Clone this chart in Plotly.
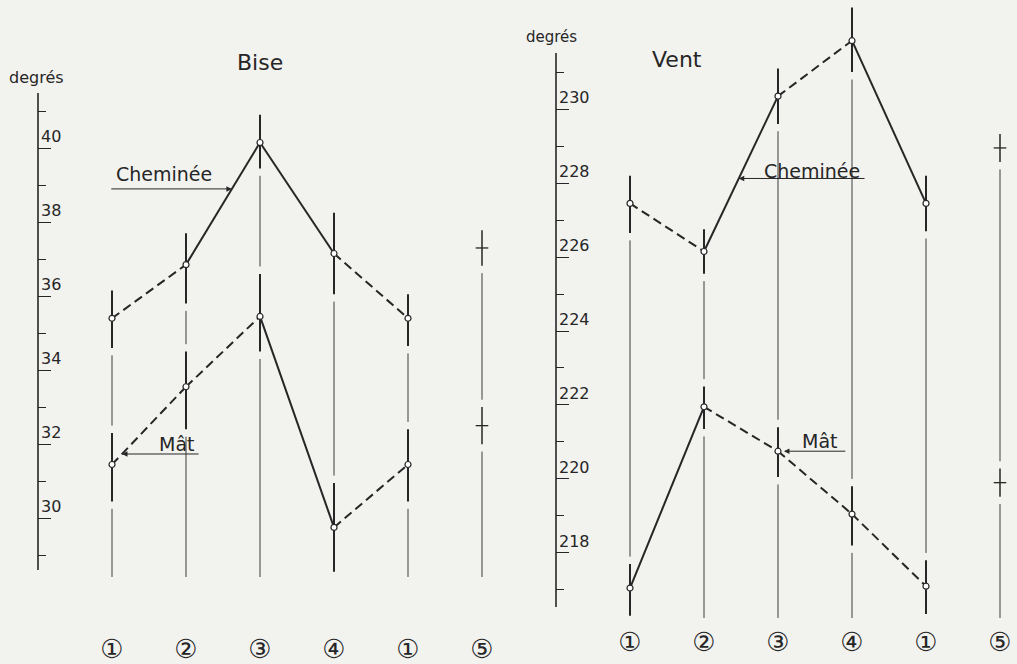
import plotly.graph_objects as go

W, H = 1017, 664
INK = "#262626"
GUIDE = "#3c3c3c"
BG = "#f2f2ef"
FONT = "DejaVu Sans, Noto Sans CJK JP, sans-serif"

# Measurement stations along the x axis (station 1 is repeated to close the loop)
stations = [1, 2, 3, 4, 5, 6]
station_labels = ["①", "②", "③", "④", "①", "⑤"]
loop = [1, 2, 3, 4, 5]

# --- Bise ---------------------------------------------------------------
bise_chem = [35.4, 36.85, 40.15, 37.15, 35.4]
bise_chem_up = [0.75, 0.85, 0.75, 1.1, 0.65]
bise_chem_dn = [0.8, 1.05, 0.7, 1.1, 0.75]
bise_chem_style = ["dash", "solid", "solid", "dash"]

bise_mat = [31.45, 33.55, 35.45, 29.75, 31.45]
bise_mat_up = [0.85, 0.95, 1.15, 1.2, 0.95]
bise_mat_dn = [1.0, 1.15, 0.95, 1.2, 1.0]
bise_mat_style = ["dash", "dash", "solid", "dash"]

bise_ref = [37.3, 32.5]
bise_ref_err = [0.48, 0.5]

bise_ticks = [30, 32, 34, 36, 38, 40]
bise_minor = [29, 31, 33, 35, 37, 39, 41]

# --- Vent ---------------------------------------------------------------
vent_chem = [227.45, 226.15, 230.35, 231.85, 227.45]
vent_chem_up = [0.75, 0.6, 0.75, 0.9, 0.75]
vent_chem_dn = [0.8, 0.6, 0.75, 0.85, 0.75]
vent_chem_style = ["dash", "solid", "dash", "solid"]

vent_mat = [217.05, 221.95, 220.75, 219.05, 217.1]
vent_mat_up = [0.65, 0.55, 0.65, 0.75, 0.7]
vent_mat_dn = [0.75, 0.6, 0.7, 0.85, 0.75]
vent_mat_style = ["solid", "dash", "dash", "dash"]

vent_ref = [228.95, 219.9]
vent_ref_err = [0.38, 0.38]

vent_ticks = [218, 220, 222, 224, 226, 228, 230]
vent_minor = [217, 219, 221, 223, 225, 227, 229, 231]

DASH = "9px,5px"
GAP = 0.2

fig = go.Figure()


def draw_panel(xa, ya, series, ref_vals, ref_err, ybottom):
    # thin guide lines at each station, broken just outside every error bar
    bars = {p: [] for p in stations}
    for vals, up, dn, _ in series:
        for p, v, u, d in zip(loop, vals, up, dn):
            bars[p].append((v + u, v - d))
    for v, e in zip(ref_vals, ref_err):
        bars[6].append((v + e, v - e))
    gx, gy = [], []
    for p, lst in bars.items():
        lst.sort(reverse=True)
        for i, (top, bot) in enumerate(lst):
            nxt = lst[i + 1][0] + GAP if i + 1 < len(lst) else ybottom
            gx += [p, p, None]
            gy += [bot - GAP, nxt, None]
    fig.add_trace(go.Scatter(x=gx, y=gy, xaxis=xa, yaxis=ya, mode="lines",
                             line=dict(color=GUIDE, width=1), hoverinfo="skip"))

    for vals, up, dn, styles in series:
        for i, st in enumerate(styles):
            fig.add_trace(go.Scatter(
                x=[loop[i], loop[i + 1]], y=[vals[i], vals[i + 1]],
                xaxis=xa, yaxis=ya, mode="lines",
                line=dict(color=INK, width=2, dash=DASH if st == "dash" else "solid")))
        fig.add_trace(go.Scatter(
            x=loop, y=vals, xaxis=xa, yaxis=ya, mode="markers",
            error_y=dict(type="data", array=up, arrayminus=dn, symmetric=False,
                         thickness=2, width=0, color=INK),
            marker=dict(symbol="circle", size=6, color="white",
                        line=dict(color=INK, width=1.2))))

    fig.add_trace(go.Scatter(
        x=[6] * len(ref_vals), y=ref_vals, xaxis=xa, yaxis=ya, mode="markers",
        error_y=dict(type="data", array=ref_err, thickness=1.5, width=0, color=INK),
        marker=dict(symbol="line-ew", size=9, line=dict(color=INK, width=1.3))))


def on_segment(xs, ys, x):
    i = int(x) - 1
    t = x - xs[i]
    return ys[i] + t * (ys[i + 1] - ys[i])


bise_range = [28.41, 44.0]
vent_range = [216.24, 232.95]

draw_panel("x", "y",
           [(bise_chem, bise_chem_up, bise_chem_dn, bise_chem_style),
            (bise_mat, bise_mat_up, bise_mat_dn, bise_mat_style)],
           bise_ref, bise_ref_err, bise_range[0])
draw_panel("x2", "y2",
           [(vent_chem, vent_chem_up, vent_chem_dn, vent_chem_style),
            (vent_mat, vent_mat_up, vent_mat_dn, vent_mat_style)],
           vent_ref, vent_ref_err, vent_range[0])

xcommon = dict(tickvals=stations, ticktext=station_labels, showgrid=False,
               zeroline=False, showline=False, ticks="", automargin=False,
               tickfont=dict(family=FONT, size=26, color=INK), fixedrange=True)


def yaxis_style(major, minor):
    return dict(showgrid=False, zeroline=False, showline=False, ticks="inside",
                automargin=False, fixedrange=True,
                ticklen=13, tickwidth=1.3, tickcolor=INK, tickvals=major,
                ticklabelposition="inside top",
                tickfont=dict(family=FONT, size=16, color=INK),
                minor=dict(ticks="inside", ticklen=8, tickvals=minor, tickwidth=1.3,
                           tickcolor=INK, showgrid=False))


fig.update_layout(
    width=W, height=H, margin=dict(l=0, r=0, t=0, b=0, autoexpand=False),
    paper_bgcolor=BG, plot_bgcolor=BG, showlegend=False,
    xaxis=dict(domain=[38 / W, 520 / W], range=[0, 482 / 74],
               anchor="y", ticklabelstandoff=54, **xcommon),
    yaxis=dict(domain=[1 - 577 / H, 1], range=bise_range, anchor="x",
               **yaxis_style(bise_ticks, bise_minor)),
    xaxis2=dict(domain=[556 / W, 1.0], range=[0, 461 / 74],
                anchor="y2", ticklabelstandoff=6, **xcommon),
    yaxis2=dict(domain=[1 - 618 / H, 1], range=vent_range, anchor="x2",
                **yaxis_style(vent_ticks, vent_minor)),
)

# axis spines
fig.add_shape(type="line", xref="x domain", yref="y domain", x0=0, x1=0,
              y0=7 / 577, y1=(577 - 93) / 577, line=dict(color=INK, width=1.6))
fig.add_shape(type="line", xref="x2 domain", yref="y2 domain", x0=0, x1=0,
              y0=11 / 618, y1=(618 - 53) / 618, line=dict(color=INK, width=1.6))

# titles and unit labels
for txt, x, y, size in [("Bise", 260, 62, 22), ("Vent", 677, 59, 22),
                        ("degrés", 36, 77, 16), ("degrés", 551, 37, 15)]:
    fig.add_annotation(text=txt, x=x / W, y=1 - y / H, xref="paper", yref="paper",
                       xanchor="center", yanchor="middle", showarrow=False,
                       font=dict(family=FONT, size=size, color=INK))

# leader arrows and their labels
arrow = dict(showarrow=True, arrowhead=2, arrowsize=1.1, arrowwidth=1,
             arrowcolor=INK, text="")
LABEL_FONT = dict(family=FONT, size=19, color=INK)

hx = 2.62
fig.add_annotation(x=hx, y=on_segment(loop, bise_chem, hx), ax=0.97,
                   ay=on_segment(loop, bise_chem, hx), xref="x", yref="y",
                   axref="x", ayref="y", **arrow)
fig.add_annotation(text="Cheminée", x=1.70, y=39.3, xref="x", yref="y",
                   showarrow=False, font=LABEL_FONT)

hx = 1.135
fig.add_annotation(x=hx, y=on_segment(loop, bise_mat, hx), ax=2.19,
                   ay=on_segment(loop, bise_mat, hx), xref="x", yref="y",
                   axref="x", ayref="y", **arrow)
fig.add_annotation(text="Mât", x=1.88, y=32.0, xref="x", yref="y",
                   showarrow=False, font=LABEL_FONT)

hx = 2.47
fig.add_annotation(x=hx, y=on_segment(loop, vent_chem, hx), ax=4.19,
                   ay=on_segment(loop, vent_chem, hx), xref="x2", yref="y2",
                   axref="x2", ayref="y2", **arrow)
fig.add_annotation(text="Cheminée", x=3.46, y=228.33, xref="x2", yref="y2",
                   showarrow=False, font=LABEL_FONT)

fig.add_annotation(x=3.08, y=vent_mat[2], ax=3.93, ay=vent_mat[2],
                   xref="x2", yref="y2", axref="x2", ayref="y2", **arrow)
fig.add_annotation(text="Mât", x=3.57, y=221.03, xref="x2", yref="y2",
                   showarrow=False, font=LABEL_FONT)

fig.write_html("out.html")
